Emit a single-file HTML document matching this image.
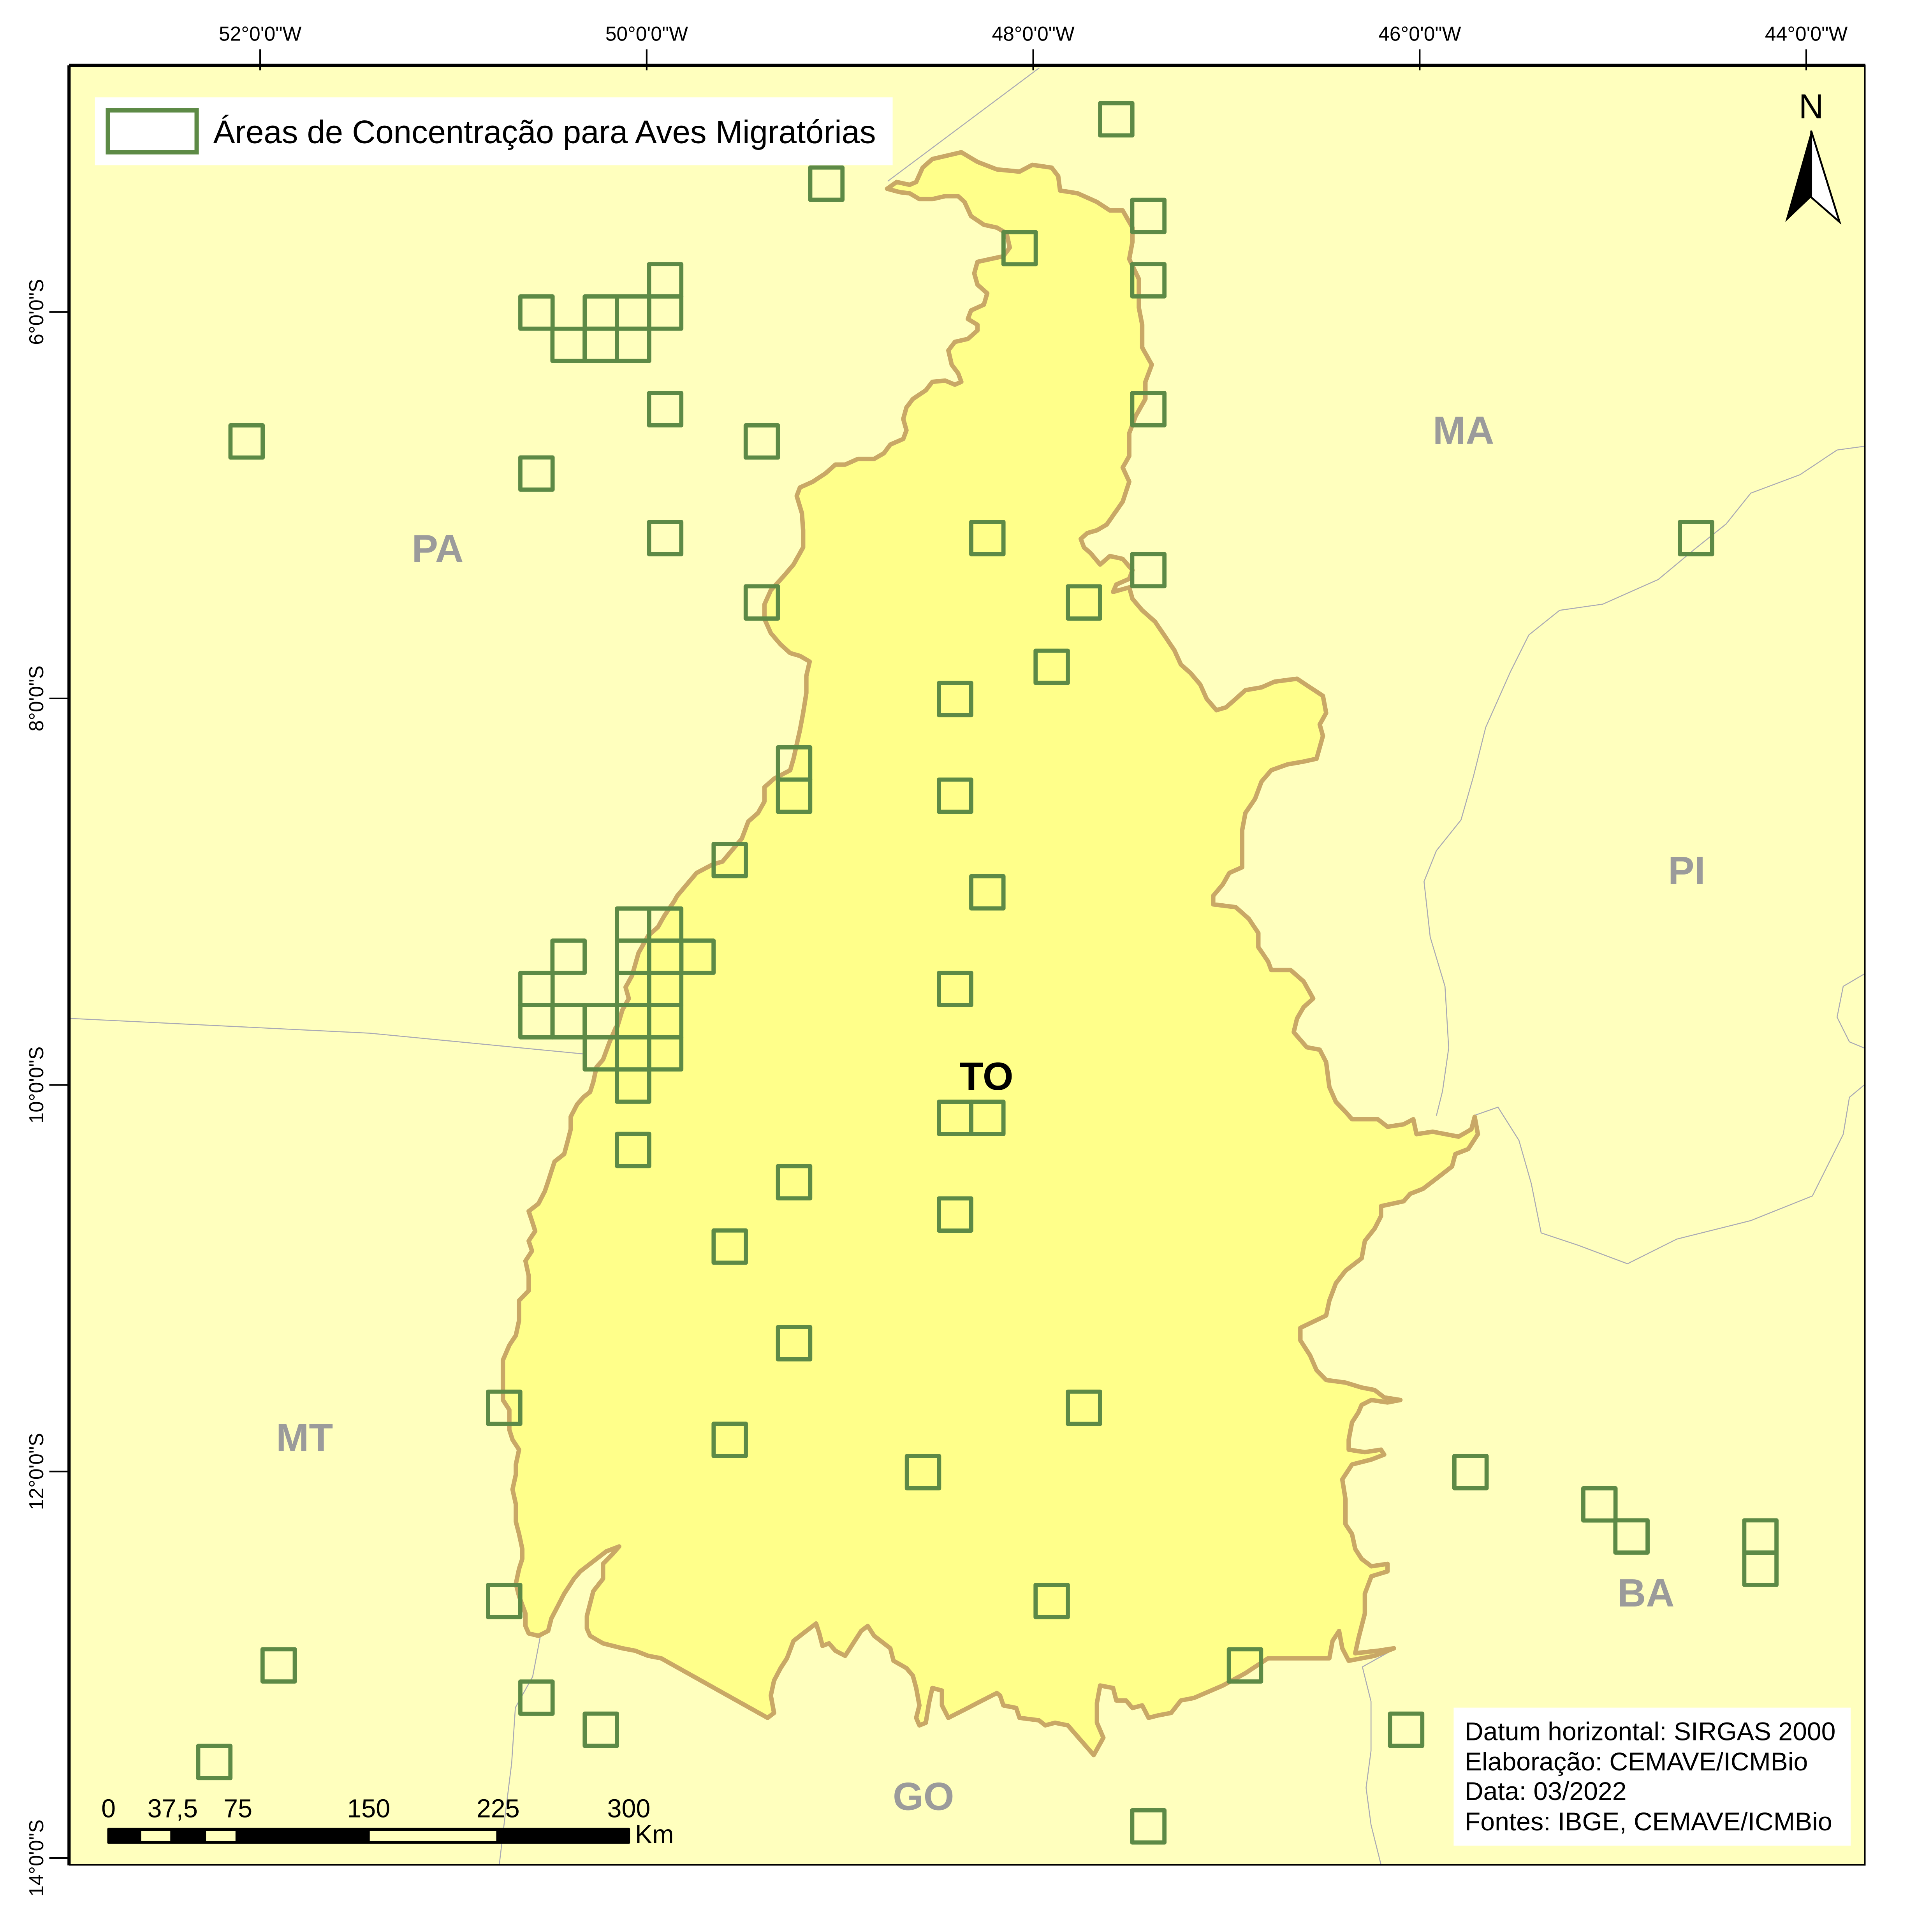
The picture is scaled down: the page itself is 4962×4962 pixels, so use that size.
<!DOCTYPE html>
<html><head><meta charset="utf-8"><style>
html,body{margin:0;padding:0;background:#fff}
svg{display:block}
text{font-family:"Liberation Sans",sans-serif}
</style></head><body>
<svg id="map" width="4962" height="4962" viewBox="0 0 1567 1567" xmlns="http://www.w3.org/2000/svg">
<rect x="0" y="0" width="1567" height="1567" fill="#ffffff"/>
<rect x="57" y="54" width="1455" height="1458" fill="#ffffbe"/>
<g id="borders" fill="none" stroke="#a9a9b4" stroke-width="0.8"></g>
<g id="to"></g>
<g id="squares"></g>
<g id="labels">
<text x="1187" y="360" font-size="32" font-weight="bold" fill="#9b9b9b" text-anchor="middle">MA</text>
<text x="355" y="456" font-size="32" font-weight="bold" fill="#9b9b9b" text-anchor="middle">PA</text>
<text x="1368" y="717" font-size="32" font-weight="bold" fill="#9b9b9b" text-anchor="middle">PI</text>
<text x="247" y="1177" font-size="32" font-weight="bold" fill="#9b9b9b" text-anchor="middle">MT</text>
<text x="1335" y="1303" font-size="32" font-weight="bold" fill="#9b9b9b" text-anchor="middle">BA</text>
<text x="749" y="1468" font-size="32" font-weight="bold" fill="#9b9b9b" text-anchor="middle">GO</text>
<text x="800" y="884" font-size="32" font-weight="bold" fill="#000" text-anchor="middle">TO</text>
</g>
<g>
<rect x="77" y="79" width="647" height="55" fill="#fff"/>
<rect x="87.5" y="89.5" width="72" height="34" fill="#fff" stroke="#5d8a46" stroke-width="3.5"/>
<text x="173" y="116" font-size="26.3" fill="#000">Áreas de Concentração para Aves Migratórias</text>
</g>
<g>
<text x="1469" y="96" font-size="28" text-anchor="middle" fill="#000">N</text>
<polygon points="1469,106 1448,180 1469,160" fill="#000"/>
<polygon points="1469,106 1492,180 1469,160" fill="#fff" stroke="#000" stroke-width="1.5"/>
</g>
<g>
<rect x="87" y="1482.5" width="424" height="13" rx="1" fill="#000"/>
<rect x="114.6" y="1485" width="23.5" height="8.3" fill="#ffffbe"/>
<rect x="167.1" y="1485" width="23.9" height="8.3" fill="#ffffbe"/>
<rect x="299.9" y="1485" width="102.6" height="8.3" fill="#ffffbe"/>
<g font-size="21" fill="#000" text-anchor="middle">
<text x="88" y="1474">0</text>
<text x="140" y="1474">37,5</text>
<text x="193" y="1474">75</text>
<text x="299" y="1474">150</text>
<text x="404" y="1474">225</text>
<text x="510" y="1474">300</text>
</g>
<text x="515" y="1495" font-size="21" fill="#000">Km</text>
</g>
<g>
<rect x="1179" y="1385" width="322" height="112" fill="#fff"/>
<g font-size="20.9" fill="#000">
<text x="1188" y="1411.5">Datum horizontal: SIRGAS 2000</text>
<text x="1188" y="1436">Elaboração: CEMAVE/ICMBio</text>
<text x="1188" y="1460">Data: 03/2022</text>
<text x="1188" y="1484.5">Fontes: IBGE, CEMAVE/ICMBio</text>
</g>
</g>
<g id="frame">
<rect x="56.5" y="53.5" width="1456" height="1459" fill="none" stroke="#000" stroke-width="1.3"/>
<line x1="56" y1="53" x2="1513" y2="53" stroke="#000" stroke-width="2.6"/>
<line x1="56" y1="53" x2="56" y2="1513" stroke="#000" stroke-width="2.6"/>
</g>
<g id="axes"></g>
</svg>
<script>
// Grid cells (10' squares): centre longitude (°W) and latitude (°S)
const cellLonW = [47.583,49.083,47.417,48.083,47.417,49.917,
50.583,50.25,50.083,49.917,50.417,50.25,50.083,
49.917,47.417,52.083,49.417,50.583,49.917,48.25,44.583,47.417,49.417,47.75,47.917,48.417,
49.25,49.25,48.417,49.583,48.25,
50.083,49.917,
50.417,50.083,49.917,49.75,
50.583,50.083,49.917,48.417,
50.583,50.417,50.25,50.083,49.917,
50.25,50.083,49.917,
50.083,
48.417,48.25,50.083,49.25,48.417,49.583,49.25,50.75,47.75,49.583,48.583,45.75,45.083,44.917,44.25,44.25,50.75,47.917,51.917,46.917,50.583,50.25,46.083,52.25,47.417];
const cellLatS = [5.0,5.333,5.5,5.667,5.833,5.833,
6.0,6.0,6.0,6.0,6.167,6.167,6.167,
6.5,6.5,6.667,6.667,6.833,7.167,7.167,7.167,7.333,7.5,7.5,7.833,8.0,
8.333,8.5,8.5,8.833,9.0,
9.167,9.167,
9.333,9.333,9.333,9.333,
9.5,9.5,9.5,9.5,
9.667,9.667,9.667,9.667,9.667,
9.833,9.833,9.833,
10.0,
10.167,10.167,10.333,10.5,10.667,10.833,11.333,11.667,11.667,11.833,12.0,12.0,12.167,12.333,12.333,12.5,12.667,12.667,13.0,13.0,13.167,13.333,13.333,13.5,13.833];
const lonTicks = [52,50,48,46,44];
const latTicks = [6,8,10,12,14];
const lonTickLabels = ["52°0'0\"W","50°0'0\"W","48°0'0\"W","46°0'0\"W","44°0'0\"W"];
const latTickLabels = ["6°0'0\"S","8°0'0\"S","10°0'0\"S","12°0'0\"S","14°0'0\"S"];

const NS='http://www.w3.org/2000/svg';
const PX_PER_DEG = 156.75;
function xScale(lonW){ return 211 + (52 - lonW) * PX_PER_DEG; }
function yScale(latS){ return 253 + (latS - 6) * PX_PER_DEG; }
const CELL = PX_PER_DEG / 6;
const CELL_DX = 2; // cell grid offset

// squares
const sq = document.getElementById('squares');
for (let i=0;i<cellLonW.length;i++){
  const r=document.createElementNS(NS,'rect');
  const cx=xScale(cellLonW[i])+CELL_DX, cy=yScale(cellLatS[i])+0.5;
  r.setAttribute('x',cx-CELL/2); r.setAttribute('y',cy-CELL/2);
  r.setAttribute('width',CELL); r.setAttribute('height',CELL);
  r.setAttribute('fill','none'); r.setAttribute('stroke','#5d8a46');
  r.setAttribute('stroke-width','3.4'); r.setAttribute('stroke-linejoin','round');
  
  
  sq.appendChild(r);
}

// axes
const ax=document.getElementById('axes');
function mk(tag,attrs){const e=document.createElementNS(NS,tag);for(const k in attrs)e.setAttribute(k,attrs[k]);ax.appendChild(e);return e;}
lonTicks.forEach((v,i)=>{
  const x=xScale(v);
  const l=mk('line',{x1:x,y1:40,x2:x,y2:57,stroke:'#000','stroke-width':1.3});
  
  
  const t=mk('text',{x:x,y:33,'font-size':16.3,'text-anchor':'middle',fill:'#000'});
  t.textContent=lonTickLabels[i];
  
  
});
latTicks.forEach((v,i)=>{
  const y=yScale(v);
  const l=mk('line',{x1:40,y1:y,x2:57,y2:y,stroke:'#000','stroke-width':1.3});
  
  
  const t=mk('text',{x:0,y:0,'font-size':16.3,'text-anchor':'middle',fill:'#000',transform:'translate(35,'+y+') rotate(-90)'});
  t.textContent=latTickLabels[i];
  
  
});

// Tocantins outline (traced; zoom-frame coordinates converted to map px)
const topPts=[[620,92],[635,80],[655,85],[665,80],[675,55],[690,40],[735,28],[760,45],[790,58],[825,62],[845,50],[875,55],[885,70],[888,95],[915,100],[945,115],[965,130],[985,130],[1000,160],[1000,185],[995,215],[1010,250],[1010,300],[1015,330],[1015,370],[1030,400],[1020,430],[1020,460],[1005,490],[995,520],[995,560],[985,580],[995,605],[985,640],[960,680],[945,690],[930,695],[920,705],[925,720],[935,730],[950,750],[965,735],[985,740],[1000,760],[995,775],[975,785],[970,798],[995,790],[1000,810],[1015,830],[1035,850],[1050,875],[1065,900],[1075,925],[1090,940],[1105,960],[1115,985],[1130,1005],[1145,1000],[1160,985],[1175,970],[1200,965],[1220,955],[1255,950],[1275,965],[1295,980],[1300,1010],[1290,1030],[1295,1050],[1285,1090],[1265,1095],[1240,1100],[1215,1110],[1200,1130],[1190,1160],[1175,1185],[1170,1215],[1170,1245],[1170,1280],[1150,1290],[1140,1310],[1125,1330],[1125,1345],[1160,1350],[1180,1370],[1195,1395],[1195,1420],[1210,1445],[1215,1460],[1245,1460],[1265,1480],[1280,1510],[1265,1525],[1255,1545],[1250,1568]];
const botPts=[[1250,40],[1270,70],[1290,75],[1300,100],[1305,150],[1315,180],[1330,200],[1340,215],[1380,215],[1395,230],[1420,225],[1435,215],[1440,245],[1465,240],[1505,250],[1525,235],[1530,210],[1535,245],[1520,275],[1500,285],[1495,310],[1475,330],[1450,355],[1430,365],[1420,380],[1385,390],[1385,410],[1375,435],[1360,460],[1355,495],[1330,520],[1315,545],[1305,580],[1300,610],[1260,635],[1260,660],[1275,690],[1285,720],[1300,740],[1330,745],[1355,755],[1375,760],[1390,775],[1415,780],[1395,785],[1370,780],[1355,790],[1350,805],[1340,825],[1335,860],[1335,880],[1360,885],[1385,880],[1390,890],[1370,900],[1340,910],[1325,940],[1330,980],[1330,1030],[1340,1050],[1345,1080],[1355,1100],[1370,1115],[1395,1110],[1395,1125],[1370,1135],[1360,1170],[1360,1210],[1350,1260],[1345,1290],[1380,1285],[1405,1280],[1375,1295],[1335,1305],[1325,1280],[1320,1245],[1310,1265],[1305,1300],[1210,1300],[1175,1330],[1140,1355],[1095,1380],[1075,1385],[1060,1410],[1040,1415],[1025,1420],[1015,1395],[1000,1400],[990,1385],[975,1385],[970,1360],[950,1355],[945,1390],[945,1430],[955,1460],[940,1495],[900,1435],[880,1430],[865,1435],[855,1425],[825,1420],[820,1400],[800,1395],[795,1375],[790,1370],[760,1390],[745,1400],[715,1420],[705,1395],[705,1365],[690,1360],[685,1390],[680,1430],[670,1435],[665,1420],[670,1395],[665,1360],[660,1335],[650,1320],[630,1305],[625,1280],[600,1255],[590,1235],[580,1245],[555,1295],[540,1285],[530,1270],[520,1275],[515,1250],[510,1230],[490,1250],[475,1265],[465,1300],[455,1320],[445,1345],[440,1375],[445,1410],[435,1420],[270,1300],[250,1295],[230,1285],[210,1280],[180,1270],[160,1255],[155,1240],[155,1215],[160,1190],[165,1165],[180,1140],[180,1110],[195,1090],[205,1075],[185,1085],[165,1105],[145,1125],[135,1140],[120,1170],[110,1195],[100,1220],[95,1245],[80,1255],[65,1250],[60,1235],[60,1210],[50,1175],[45,1150],[50,1120],[55,1100],[55,1080],[50,1050],[45,1025],[45,990],[40,960],[45,930],[45,910],[50,880],[40,860],[35,840],[35,800],[25,780],[25,740],[25,700],[35,670],[45,650],[50,620],[50,580],[65,560],[65,530],[60,500],[70,480],[65,460],[75,440],[70,420],[65,400],[80,385],[90,360],[95,340],[100,320],[105,300],[120,285],[125,260],[130,235],[130,210],[140,185],[150,170],[160,160],[165,140],[170,110],[180,95],[190,60],[200,30]];
const westPts=[[200,1568],[210,1530],[220,1510],[215,1490],[225,1470],[235,1430],[250,1400],[265,1385],[275,1365],[290,1340],[295,1330],[310,1310],[325,1290],[350,1275],[365,1270],[380,1250],[395,1230],[405,1200],[420,1185],[430,1165],[430,1140],[445,1125],[470,1110],[475,1090],[480,1065],[485,1040],[490,1010],[495,975],[495,945],[500,920],[485,910],[470,905],[455,890],[440,870],[430,845],[430,820],[440,795],[460,770],[475,750],[490,720],[490,690],[488,660],[480,630],[485,615],[505,605],[525,590],[540,575],[555,575],[575,565],[600,565],[615,555],[625,540],[645,530],[650,515],[645,495],[650,475],[660,460],[680,445],[690,430],[710,428],[725,435],[735,430],[730,415],[720,400],[715,375],[725,360],[745,355],[760,340],[760,330],[745,320],[750,305],[770,295],[775,275],[760,260],[755,240],[760,220],[780,215],[800,210],[810,195],[805,170],[790,160],[770,155],[750,140],[740,115],[730,105],[710,105],[690,110],[670,110],[655,100],[640,98]];
const pts=[];
topPts.forEach(p=>pts.push([394.8+p[0]*0.5237,110.5+p[1]*0.4632]));
botPts.forEach(p=>pts.push([394.8+p[0]*0.5237,821.2+p[1]*0.4029]));
westPts.forEach(p=>pts.push([394.8+p[0]*0.5237,110.5+p[1]*0.4632]));
const toG=document.getElementById('to');
const toPath=document.createElementNS(NS,'path');
toPath.setAttribute('d','M'+pts.map(p=>p[0].toFixed(1)+','+p[1].toFixed(1)).join('L')+'Z');
toPath.setAttribute('fill','#ffff8a');
toPath.setAttribute('stroke','#c9a866');
toPath.setAttribute('stroke-width','3.6');
toPath.setAttribute('stroke-linejoin','round');


toG.appendChild(toPath);

// other state borders
const bG=document.getElementById('borders');
const lines=[
 [[720,147],[843,55]],
 [[57,826],[300,838],[475,855]],
 [[1512,362],[1490,365],[1460,385],[1420,400],[1400,425],[1375,445],[1345,470],[1300,490],[1265,495],[1240,515],[1225,545],[1205,590],[1195,630],[1185,665],[1165,690],[1155,715],[1160,760],[1172,800],[1175,850],[1170,885],[1165,905]],
 [[1195,905],[1215,898],[1232,925],[1242,960],[1250,1000],[1280,1010],[1320,1025],[1360,1005],[1420,990],[1470,970],[1495,920],[1500,890],[1512,880]],
 [[1512,790],[1495,800],[1490,825],[1500,845],[1512,850]],
 [[440,1318],[432,1360],[418,1385],[415,1430],[410,1470],[405,1512]],
 [[1130,1338],[1105,1352],[1112,1380],[1112,1420],[1108,1450],[1112,1480],[1120,1512]]
];
lines.forEach(l=>{
  const p=document.createElementNS(NS,'polyline');
  p.setAttribute('points',l.map(q=>q.join(',')).join(' '));
  
  
  bG.appendChild(p);
});
</script>
</body></html>
